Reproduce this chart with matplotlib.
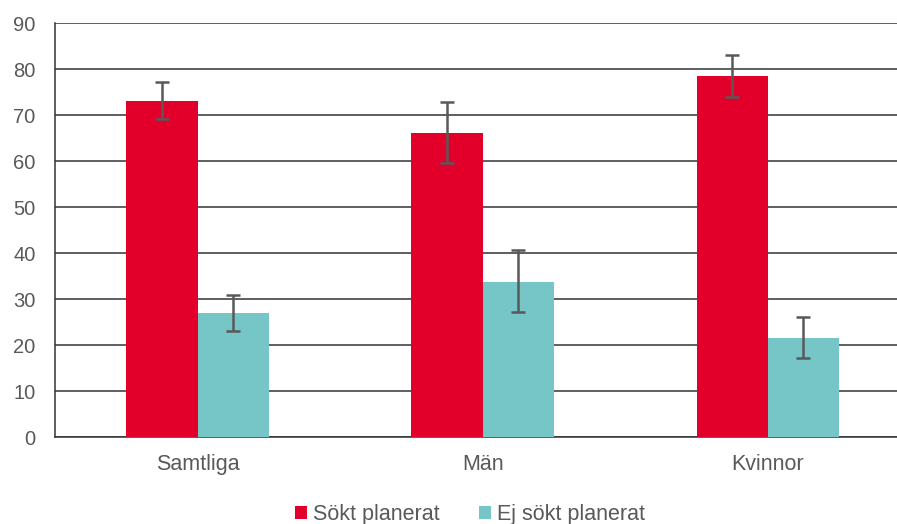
import numpy as np
import matplotlib.pyplot as plt

plt.rcParams['font.family'] = ['Liberation Sans', 'DejaVu Sans']

categories = ["Samtliga", "Män", "Kvinnor"]
sokt = [73.1, 66.2, 78.5]
sokt_lo = [69.2, 59.5, 74.0]
sokt_hi = [77.1, 72.9, 83.0]
ej_sokt = [26.9, 33.8, 21.6]
ej_lo = [23.0, 27.2, 17.1]
ej_hi = [30.8, 40.6, 26.2]

red = "#E2002B"
teal = "#76C5C7"
errc = "#595959"
txt = "#595959"

fig = plt.figure(figsize=(8.97, 5.24), dpi=100)
ax = fig.add_axes([0.0613, 0.166, 0.9387, 0.790])

x = np.arange(len(categories))
w = 0.25
s = np.array(sokt); e = np.array(ej_sokt)
ax.bar(x - w / 2, s, w, color=red, label="Sökt planerat", zorder=3)
ax.bar(x + w / 2, e, w, color=teal, label="Ej sökt planerat", zorder=3)
ax.errorbar(x - w / 2, s, yerr=[s - np.array(sokt_lo), np.array(sokt_hi) - s],
            fmt="none", ecolor=errc, elinewidth=1.8, capsize=4.7, capthick=1.8, zorder=4)
ax.errorbar(x + w / 2, e, yerr=[e - np.array(ej_lo), np.array(ej_hi) - e],
            fmt="none", ecolor=errc, elinewidth=1.8, capsize=4.7, capthick=1.8, zorder=4)

ax.set_xlim(-0.5, 2.453)
ax.set_ylim(0, 90)
ax.set_yticks(range(0, 91, 10))
ax.set_xticks(x)
ax.set_xticklabels(categories)
ax.yaxis.grid(True, color="#333333", linewidth=1.1, zorder=0)
ax.set_axisbelow(True)
for sp in ["right", "top"]:
    ax.spines[sp].set_visible(False)
ax.spines["bottom"].set_color("#333333")
ax.spines["left"].set_color("#333333")
ax.spines["bottom"].set_linewidth(1.1)
ax.spines["left"].set_linewidth(1.1)
ax.tick_params(axis="y", length=0, labelsize=14.5, labelcolor=txt, pad=14)
ax.tick_params(axis="x", length=0, labelsize=15.5, labelcolor=txt, pad=12)

ax.legend(loc="lower center", bbox_to_anchor=(0.493, -0.243), ncol=2, frameon=False,
          fontsize=15.5, handlelength=0.55, handleheight=0.55, handletextpad=0.3,
          columnspacing=1.8, labelcolor=txt, borderpad=0.1)

fig.savefig("out.png", dpi=100)
